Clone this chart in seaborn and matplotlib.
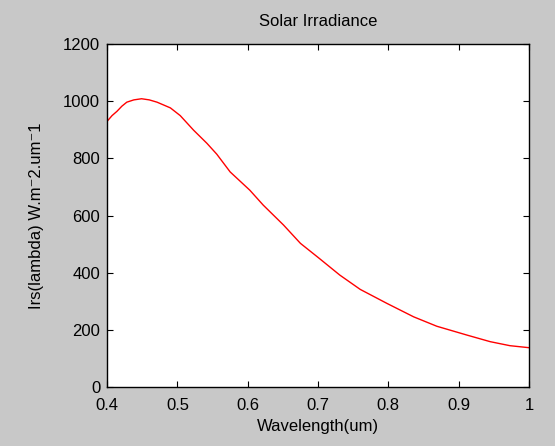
import matplotlib
matplotlib.use("Agg")
from matplotlib import pyplot as plt
import pandas as pd
import seaborn as sns

# values
wavelength = [0.400, 0.407, 0.414, 0.421, 0.428, 0.438, 0.449, 0.460, 0.471, 0.490,
              0.504, 0.523, 0.542, 0.556, 0.575, 0.603, 0.622, 0.651, 0.675, 0.701,
              0.731, 0.760, 0.798, 0.836, 0.869, 0.912, 0.945, 0.973, 1.000]
irradiance = [930, 950, 965, 983, 997, 1005, 1009, 1005, 997, 977,
              950, 899, 853, 815, 753, 689, 637, 567, 503, 452,
              392, 342, 293, 246, 213, 182, 159, 145, 138]

df = pd.DataFrame({"Wavelength(um)": wavelength, "Irs": irradiance})

sns.set_style("ticks")
plt.rcParams["font.family"] = ["Liberation Sans", "DejaVu Sans"]
plt.rcParams["text.color"] = "black"
plt.rcParams["axes.labelcolor"] = "black"
plt.rcParams["xtick.color"] = "black"
plt.rcParams["ytick.color"] = "black"

grey = "#c8c8c8"
fig = plt.figure(figsize=(5.55, 4.46), dpi=100, facecolor=grey)
ax = fig.add_axes([0.193, 0.132, 0.760, 0.769])

sns.lineplot(data=df, x="Wavelength(um)", y="Irs", color="red", linewidth=1, ax=ax)

ax.set_xlim(0.4, 1.0)
ax.set_ylim(0, 1200)
ax.set_xticks([0.4, 0.5, 0.6, 0.7, 0.8, 0.9, 1.0])
ax.set_xticklabels(["0.4", "0.5", "0.6", "0.7", "0.8", "0.9", "1"])
ax.set_yticks(range(0, 1201, 200))
ax.tick_params(direction="in", top=True, right=True, labelsize=12, length=4, pad=5)
ax.tick_params(axis="x", pad=8)
for s in ax.spines.values():
    s.set_visible(True)
    s.set_color("black")
    s.set_linewidth(1)

ax.set_title("Solar Irradiance", fontsize=12, pad=13)
ax.set_xlabel("Wavelength(um)", fontsize=12, labelpad=4)
ax.set_ylabel("Irs(lambda) W.m\u207b2.um\u207b1", fontsize=12, labelpad=14)

fig.savefig("out.png", dpi=100, facecolor=grey)
